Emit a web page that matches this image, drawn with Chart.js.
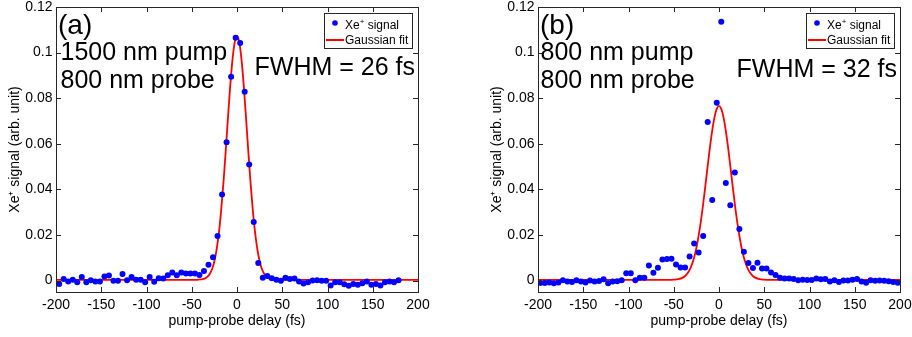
<!DOCTYPE html>
<html>
<head>
<meta charset="utf-8">
<script src="https://cdn.jsdelivr.net/npm/chart.js@4.4.0/dist/chart.umd.min.js"></script>
<style>
  html, body { margin: 0; padding: 0; background: #fff; }
  #wrap { position: relative; width: 912px; height: 337px; overflow: hidden; }
  canvas { position: absolute; top: 0; }
</style>
</head>
<body>
<div id="wrap">
  <canvas id="chartA" width="430" height="337" style="left:0px"></canvas>
  <canvas id="chartB" width="430" height="337" style="left:482px"></canvas>
</div>
<script>
// ---- data ----
const xTicks = [-200, -150, -100, -50, 0, 50, 100, 150, 200];
const yTicks = [0, 0.02, 0.04, 0.06, 0.08, 0.1, 0.12];
const yTickLabels = ['0', '0.02', '0.04', '0.06', '0.08', '0.1', '0.12'];

// panel (a): 1500 nm pump / 800 nm probe
const delayA = [-196.5, -191.5, -186.5, -181.5, -176.5, -171.5, -166.5, -161.5, -156.5, -151.5,
  -146.5, -141.5, -136.5, -131.5, -126.5, -121.5, -116.5, -111.5, -106.5, -101.5,
  -96.5, -91.5, -86.5, -81.5, -76.5, -71.5, -66.5, -61.5, -56.5, -51.5,
  -46.5, -41.5, -36.5, -31.5, -26.5, -21.5, -16.5, -11.5, -6.5, -1.5,
  3.5, 8.5, 13.5, 18.5, 23.5, 28.5, 33.5, 38.5, 43.5, 48.5,
  53.5, 58.5, 63.5, 68.5, 73.5, 78.5, 83.5, 88.5, 93.5, 98.5,
  103.5, 108.5, 113.5, 118.5, 123.5, 128.5, 133.5, 138.5, 143.5, 148.5,
  153.5, 158.5, 163.5, 168.5, 173.5, 178.5];
const signalA = [-0.0015, 0.0007, -0.0004, 0.0004, -0.0007, 0.0016, -0.0007, 0.0001, -0.0004, -0.0004,
  0.0018, 0.0022, -0.0001, -0.0001, 0.0029, 0.0001, 0.0016, 0.0004, 0.0004, -0.0007,
  0.0016, -0.0005, 0.0010, 0.0009, 0.0023, 0.0035, 0.0023, 0.0036, 0.0031, 0.0031,
  0.0031, 0.0025, 0.0042, 0.0069, 0.0102, 0.0196, 0.0378, 0.0607, 0.0894, 0.1065,
  0.1042, 0.0828, 0.0509, 0.0257, 0.0077, 0.0012, 0.0020, 0.0010, 0.0004, -0.0001,
  0.0012, 0.0007, 0.0009, -0.0004, -0.0013, -0.0007, 0.0000, 0.0001, -0.0001, -0.0001,
  -0.0022, -0.0007, -0.0007, -0.0016, -0.0023, -0.0015, -0.0018, -0.0012, -0.0004, -0.0018,
  -0.0015, -0.0022, -0.0007, -0.0004, -0.0007, 0.0002];
const fitDelayA = [-200, -45, -40, -35, -32.5, -30, -27.5, -25, -22.5, -20, -17.5, -15, -12.5, -10, -7.5, -5, -2.5,
  0, 2.5, 5, 7.5, 10, 12.5, 15, 17.5, 20, 22.5, 25, 27.5, 30, 32.5, 35, 40, 45, 200];
const fitA = [0.0003, 0.0003, 0.0005, 0.0010, 0.0017, 0.0030, 0.0051, 0.0085, 0.0137, 0.0210, 0.0308, 0.0428, 0.0567, 0.0713, 0.0853, 0.0969, 0.1046,
  0.1073, 0.1046, 0.0969, 0.0853, 0.0713, 0.0567, 0.0428, 0.0308, 0.0210, 0.0137, 0.0085, 0.0051, 0.0030, 0.0017, 0.0010, 0.0005, 0.0003, 0.0003];

// panel (b): 800 nm pump / 800 nm probe
const delayB = [-197.5, -192.5, -187.5, -182.5, -177.5, -172.5, -167.5, -162.5, -157.5, -152.5,
  -147.5, -142.5, -137.5, -132.5, -127.5, -122.5, -117.5, -112.5, -107.5, -102.5,
  -97.5, -92.5, -87.5, -82.5, -77.5, -72.5, -67.5, -62.5, -57.5, -52.5,
  -47.5, -42.5, -37.5, -32.5, -27.5, -22.5, -17.5, -12.5, -7.5, -2.5,
  2.5, 7.5, 12.5, 17.5, 22.5, 27.5, 32.5, 37.5, 42.5, 47.5,
  52.5, 57.5, 62.5, 67.5, 72.5, 77.5, 82.5, 87.5, 92.5, 97.5,
  102.5, 107.5, 112.5, 117.5, 122.5, 127.5, 132.5, 137.5, 142.5, 147.5,
  152.5, 157.5, 162.5, 167.5, 172.5, 177.5, 182.5, 187.5, 192.5, 197.5];
const signalB = [-0.0010, -0.0010, -0.0008, -0.0012, -0.0008, 0.0002, -0.0004, -0.0006, 0.0001, -0.0004,
  -0.0008, 0.0000, -0.0004, -0.0002, 0.0006, -0.0012, -0.0004, -0.0003, 0.0001, 0.0032,
  0.0032, 0.0001, 0.0013, 0.0013, 0.0066, 0.0034, 0.0056, 0.0092, 0.0095, 0.0096,
  0.0071, 0.0058, 0.0057, 0.0106, 0.0163, 0.0123, 0.0196, 0.0696, 0.0354, 0.0780,
  0.1135, 0.0428, 0.0331, 0.0474, 0.0226, 0.0127, 0.0077, 0.0055, 0.0078, 0.0053,
  0.0053, 0.0036, 0.0025, 0.0012, 0.0009, 0.0009, 0.0007, 0.0001, 0.0004, 0.0003,
  0.0003, 0.0009, 0.0006, 0.0007, -0.0004, 0.0001, -0.0006, 0.0000, 0.0000, 0.0004,
  0.0007, -0.0004, -0.0009, 0.0001, -0.0001, 0.0000, -0.0001, -0.0003, -0.0006, -0.0009];
const fitDelayB = [-200, -55, -50, -45, -40, -37.5, -35, -32.5, -30, -27.5, -25, -22.5, -20, -17.5, -15, -12.5, -10, -7.5, -5, -2.5,
  0, 2.5, 5, 7.5, 10, 12.5, 15, 17.5, 20, 22.5, 25, 27.5, 30, 32.5, 35, 37.5, 40, 45, 50, 55, 200];
const fitB = [0.0003, 0.0003, 0.0004, 0.0006, 0.0013, 0.0020, 0.0031, 0.0047, 0.0070, 0.0101, 0.0143, 0.0197, 0.0261, 0.0336, 0.0418, 0.0503, 0.0585, 0.0658, 0.0716, 0.0753,
  0.0766, 0.0753, 0.0716, 0.0658, 0.0585, 0.0503, 0.0418, 0.0336, 0.0261, 0.0197, 0.0143, 0.0101, 0.0070, 0.0047, 0.0031, 0.0020, 0.0013, 0.0006, 0.0004, 0.0003, 0.0003];

const notesA = { tag: '(a)', lines: ['1500 nm pump', '800 nm probe'], fwhm: 'FWHM = 26 fs', textX: 4.5, fwhmY: 68 };
const notesB = { tag: '(b)', lines: ['800 nm pump', '800 nm probe'], fwhm: 'FWHM = 32 fs', textX: 2.5, fwhmY: 70 };

const FONT = '"Liberation Sans", Arial, Helvetica, sans-serif';
const INK = '#262626';

// box, inward ticks, legend and the in-plot labels (MATLAB look)
const panelPlugin = {
  id: 'panel',
  afterDatasetsDraw(chart) {
    const { ctx, chartArea: a, scales: { x, y } } = chart;
    ctx.save();
    ctx.strokeStyle = INK;
    ctx.lineWidth = 1;
    ctx.beginPath();
    x.ticks.forEach(t => {
      const px = Math.round(x.getPixelForValue(t.value)) + 0.5;
      ctx.moveTo(px, a.bottom); ctx.lineTo(px, a.bottom - 5);
      ctx.moveTo(px, a.top); ctx.lineTo(px, a.top + 5);
    });
    y.ticks.forEach(t => {
      const py = Math.round(y.getPixelForValue(t.value)) + 0.5;
      ctx.moveTo(a.left, py); ctx.lineTo(a.left + 5, py);
      ctx.moveTo(a.right, py); ctx.lineTo(a.right - 5, py);
    });
    ctx.stroke();
    ctx.strokeRect(Math.round(a.left) + 0.5, Math.round(a.top) + 0.5, Math.round(a.width), Math.round(a.height));
    ctx.restore();
  },
  afterDraw(chart) {
    const { ctx, chartArea: a } = chart;
    const notes = chart.options.plugins.panel;
    const ds = chart.data.datasets;
    ctx.save();
    // legend box
    const bx = Math.round(a.right - 94) + 0.5, by = Math.round(a.top + 5.5) + 0.5;
    ctx.fillStyle = '#fff';
    ctx.fillRect(bx, by, 88, 35);
    ctx.strokeStyle = INK;
    ctx.lineWidth = 1;
    ctx.strokeRect(bx, by, 88, 35);
    // row 1: points
    ctx.fillStyle = ds[0].backgroundColor;
    ctx.beginPath();
    ctx.arc(a.right - 83, a.top + 16, 2.8, 0, Math.PI * 2);
    ctx.fill();
    ctx.fillStyle = '#000';
    ctx.textBaseline = 'alphabetic';
    ctx.textAlign = 'left';
    const parts = ds[0].label.split('+');
    let tx = a.right - 73;
    ctx.font = '12px ' + FONT;
    ctx.fillText(parts[0], tx, a.top + 22);
    tx += ctx.measureText(parts[0]).width;
    ctx.font = '8px ' + FONT;
    ctx.fillText('+', tx, a.top + 17);
    tx += ctx.measureText('+').width;
    ctx.font = '12px ' + FONT;
    ctx.fillText(parts[1], tx, a.top + 22);
    // row 2: fit line
    ctx.strokeStyle = ds[1].borderColor;
    ctx.lineWidth = 2;
    ctx.beginPath();
    ctx.moveTo(a.right - 92, a.top + 33);
    ctx.lineTo(a.right - 74, a.top + 33);
    ctx.stroke();
    ctx.fillText(ds[1].label, a.right - 73, a.top + 36.5);

    // panel tag and annotations
    ctx.fillStyle = '#000';
    ctx.font = '28px ' + FONT;
    ctx.fillText(notes.tag, a.left + 2, a.top + 27);
    ctx.font = '25px ' + FONT;
    ctx.fillText(notes.lines[0], a.left + notes.textX, a.top + 52.5);
    ctx.fillText(notes.lines[1], a.left + notes.textX, a.top + 81.3);
    ctx.textAlign = 'right';
    ctx.fillText(notes.fwhm, a.right - 3, a.top + notes.fwhmY);
    ctx.restore();
  }
};

function makeConfig(delays, signal, fitX, fitY, notes) {
  return {
    type: 'scatter',
    data: {
      datasets: [
        {
          label: 'Xe+ signal',
          data: delays.map((d, i) => ({ x: d, y: signal[i] })),
          backgroundColor: '#0000ff',
          borderColor: '#0000ff',
          pointRadius: 3,
          pointBorderWidth: 0,
          showLine: false
        },
        {
          label: 'Gaussian fit',
          data: fitX.map((d, i) => ({ x: d, y: fitY[i] })),
          borderColor: '#ff0000',
          backgroundColor: '#ff0000',
          borderWidth: 1.8,
          pointRadius: 0,
          showLine: true,
          cubicInterpolationMode: 'monotone',
          fill: false
        }
      ]
    },
    options: {
      responsive: false,
      animation: false,
      devicePixelRatio: 1,
      layout: { padding: { left: 0, right: 12, top: 7, bottom: 0 } },
      plugins: {
        legend: { display: false },
        tooltip: { enabled: false },
        panel: notes
      },
      scales: {
        x: {
          type: 'linear',
          min: -200,
          max: 200,
          bounds: 'data',
          grid: { display: false, drawTicks: false },
          border: { display: false },
          afterBuildTicks: s => { s.ticks = xTicks.map(v => ({ value: v })); },
          afterFit: s => { s.height = 45; s.paddingLeft = 0; s.paddingRight = 0; },
          ticks: {
            color: '#000', padding: 5, maxRotation: 0, autoSkip: false,
            font: { family: FONT, size: 14 },
            callback: v => String(v)
          },
          title: {
            display: true, text: 'pump-probe delay (fs)', color: '#000',
            font: { family: FONT, size: 14 }, padding: { top: 0, bottom: 7.6 }
          }
        },
        y: {
          type: 'linear',
          min: -0.005,
          max: 0.12,
          bounds: 'data',
          grid: { display: false, drawTicks: false },
          border: { display: false },
          afterBuildTicks: s => { s.ticks = yTicks.map(v => ({ value: v })); },
          afterFit: s => { s.width = 56; s.paddingTop = 0; s.paddingBottom = 0; },
          ticks: {
            color: '#000', padding: 3.5, autoSkip: false,
            font: { family: FONT, size: 14 },
            callback: v => yTickLabels[yTicks.indexOf(v)]
          },
          title: {
            display: true, text: 'Xe\u207A signal (arb. unit)', color: '#000',
            font: { family: FONT, size: 14 }, padding: { top: 6.6, bottom: 0 }
          }
        }
      }
    },
    plugins: [panelPlugin]
  };
}

new Chart(document.getElementById('chartA'), makeConfig(delayA, signalA, fitDelayA, fitA, notesA));
new Chart(document.getElementById('chartB'), makeConfig(delayB, signalB, fitDelayB, fitB, notesB));
</script>
</body>
</html>
